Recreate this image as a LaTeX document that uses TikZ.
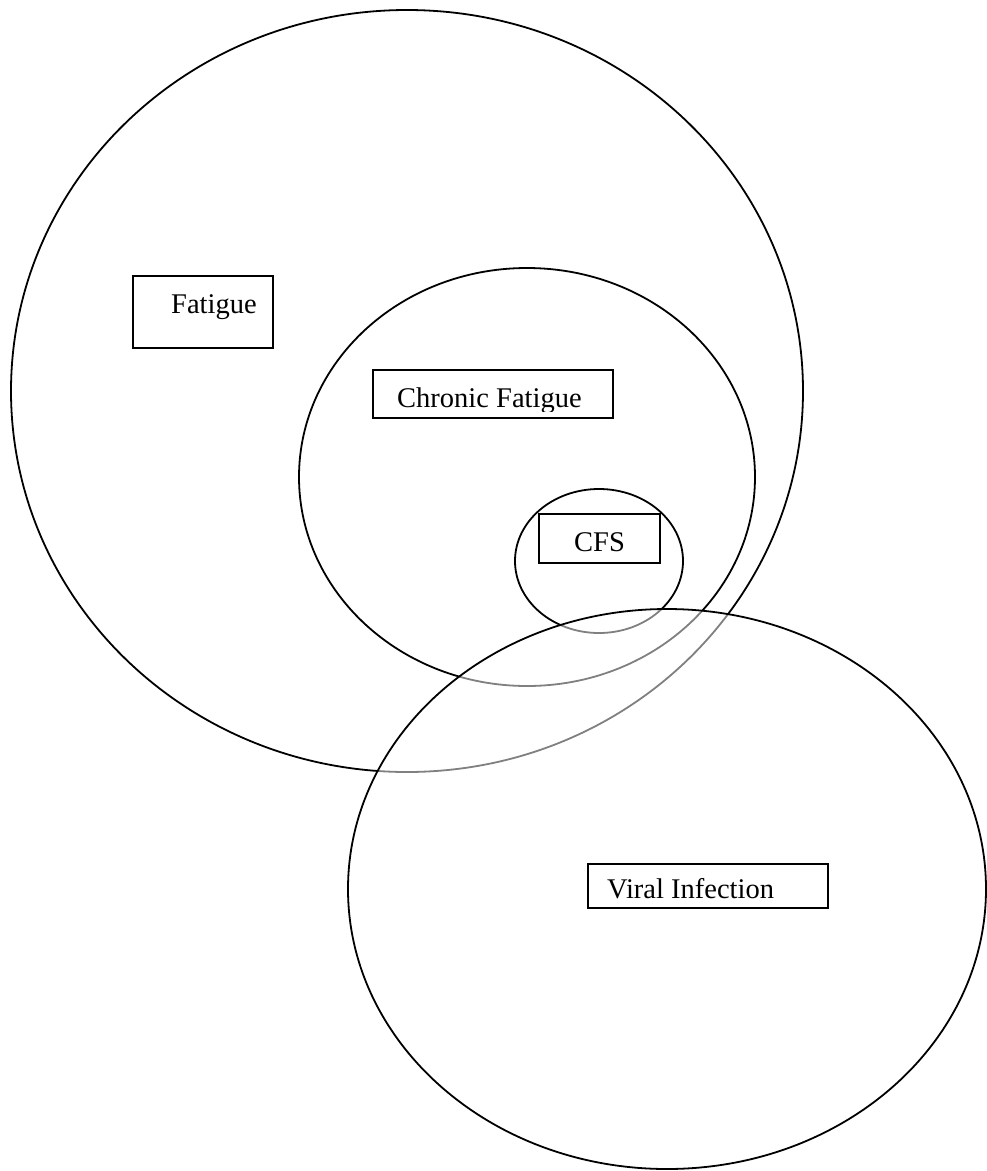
\documentclass[tikz,border=0pt]{standalone}
\usepackage{fontspec}
\setmainfont{Liberation Serif}
\usetikzlibrary{positioning}

\begin{document}
\begin{tikzpicture}[
    x=1pt, y=-1pt,
    font=\fontsize{28.5}{34}\selectfont,
    % Styles
    setline/.style={
        draw=black,
        line width=1.8pt
    },
    labelbox/.style={
        rectangle,
        draw=black,
        fill=white,
        line width=1.8pt,
        inner sep=0pt,
        anchor=north west
    },
    boxtext/.style={
        anchor=base west,
        inner sep=0pt
    }
]
    \useasboundingbox (0,0) rectangle (987,1171);

    % ================= SETS =================
    \draw[setline] (407,391) ellipse [x radius=396pt, y radius=381pt];
    \draw[setline] (527,477) ellipse [x radius=228pt, y radius=209pt];
    \draw[setline] (599,561) ellipse [x radius=84pt, y radius=72pt];

    % ================= LABELS =================
    \node[labelbox, minimum width=140pt, minimum height=72pt] (fatiguebox) at (132,275) {};
    \node[boxtext] (fatiguetext) at (171,313) {Fatigue};

    \node[labelbox, minimum width=240pt, minimum height=48pt] (chronicbox) at (372,369) {};
    \begin{scope}
        \clip (372,369) rectangle (612,411);
        \node[boxtext] (chronictext) at (397,407) {Chronic Fatigue};
    \end{scope}

    \node[labelbox, minimum width=121pt, minimum height=49pt] (cfsbox) at (538,513) {};
    \node[boxtext] (cfstext) at (574,551) {CFS};

    % ================= VIRAL INFECTION =================
    % pale veil over the overlapping arcs
    \fill[white, fill opacity=0.5] (667,889) ellipse [x radius=319pt, y radius=280pt];
    \draw[setline] (667,889) ellipse [x radius=319pt, y radius=280pt];

    \node[labelbox, minimum width=240pt, minimum height=44pt] (viralbox) at (587,863) {};
    \node[boxtext] (viraltext) at (607,898) {Viral Infection};

\end{tikzpicture}
\end{document}
